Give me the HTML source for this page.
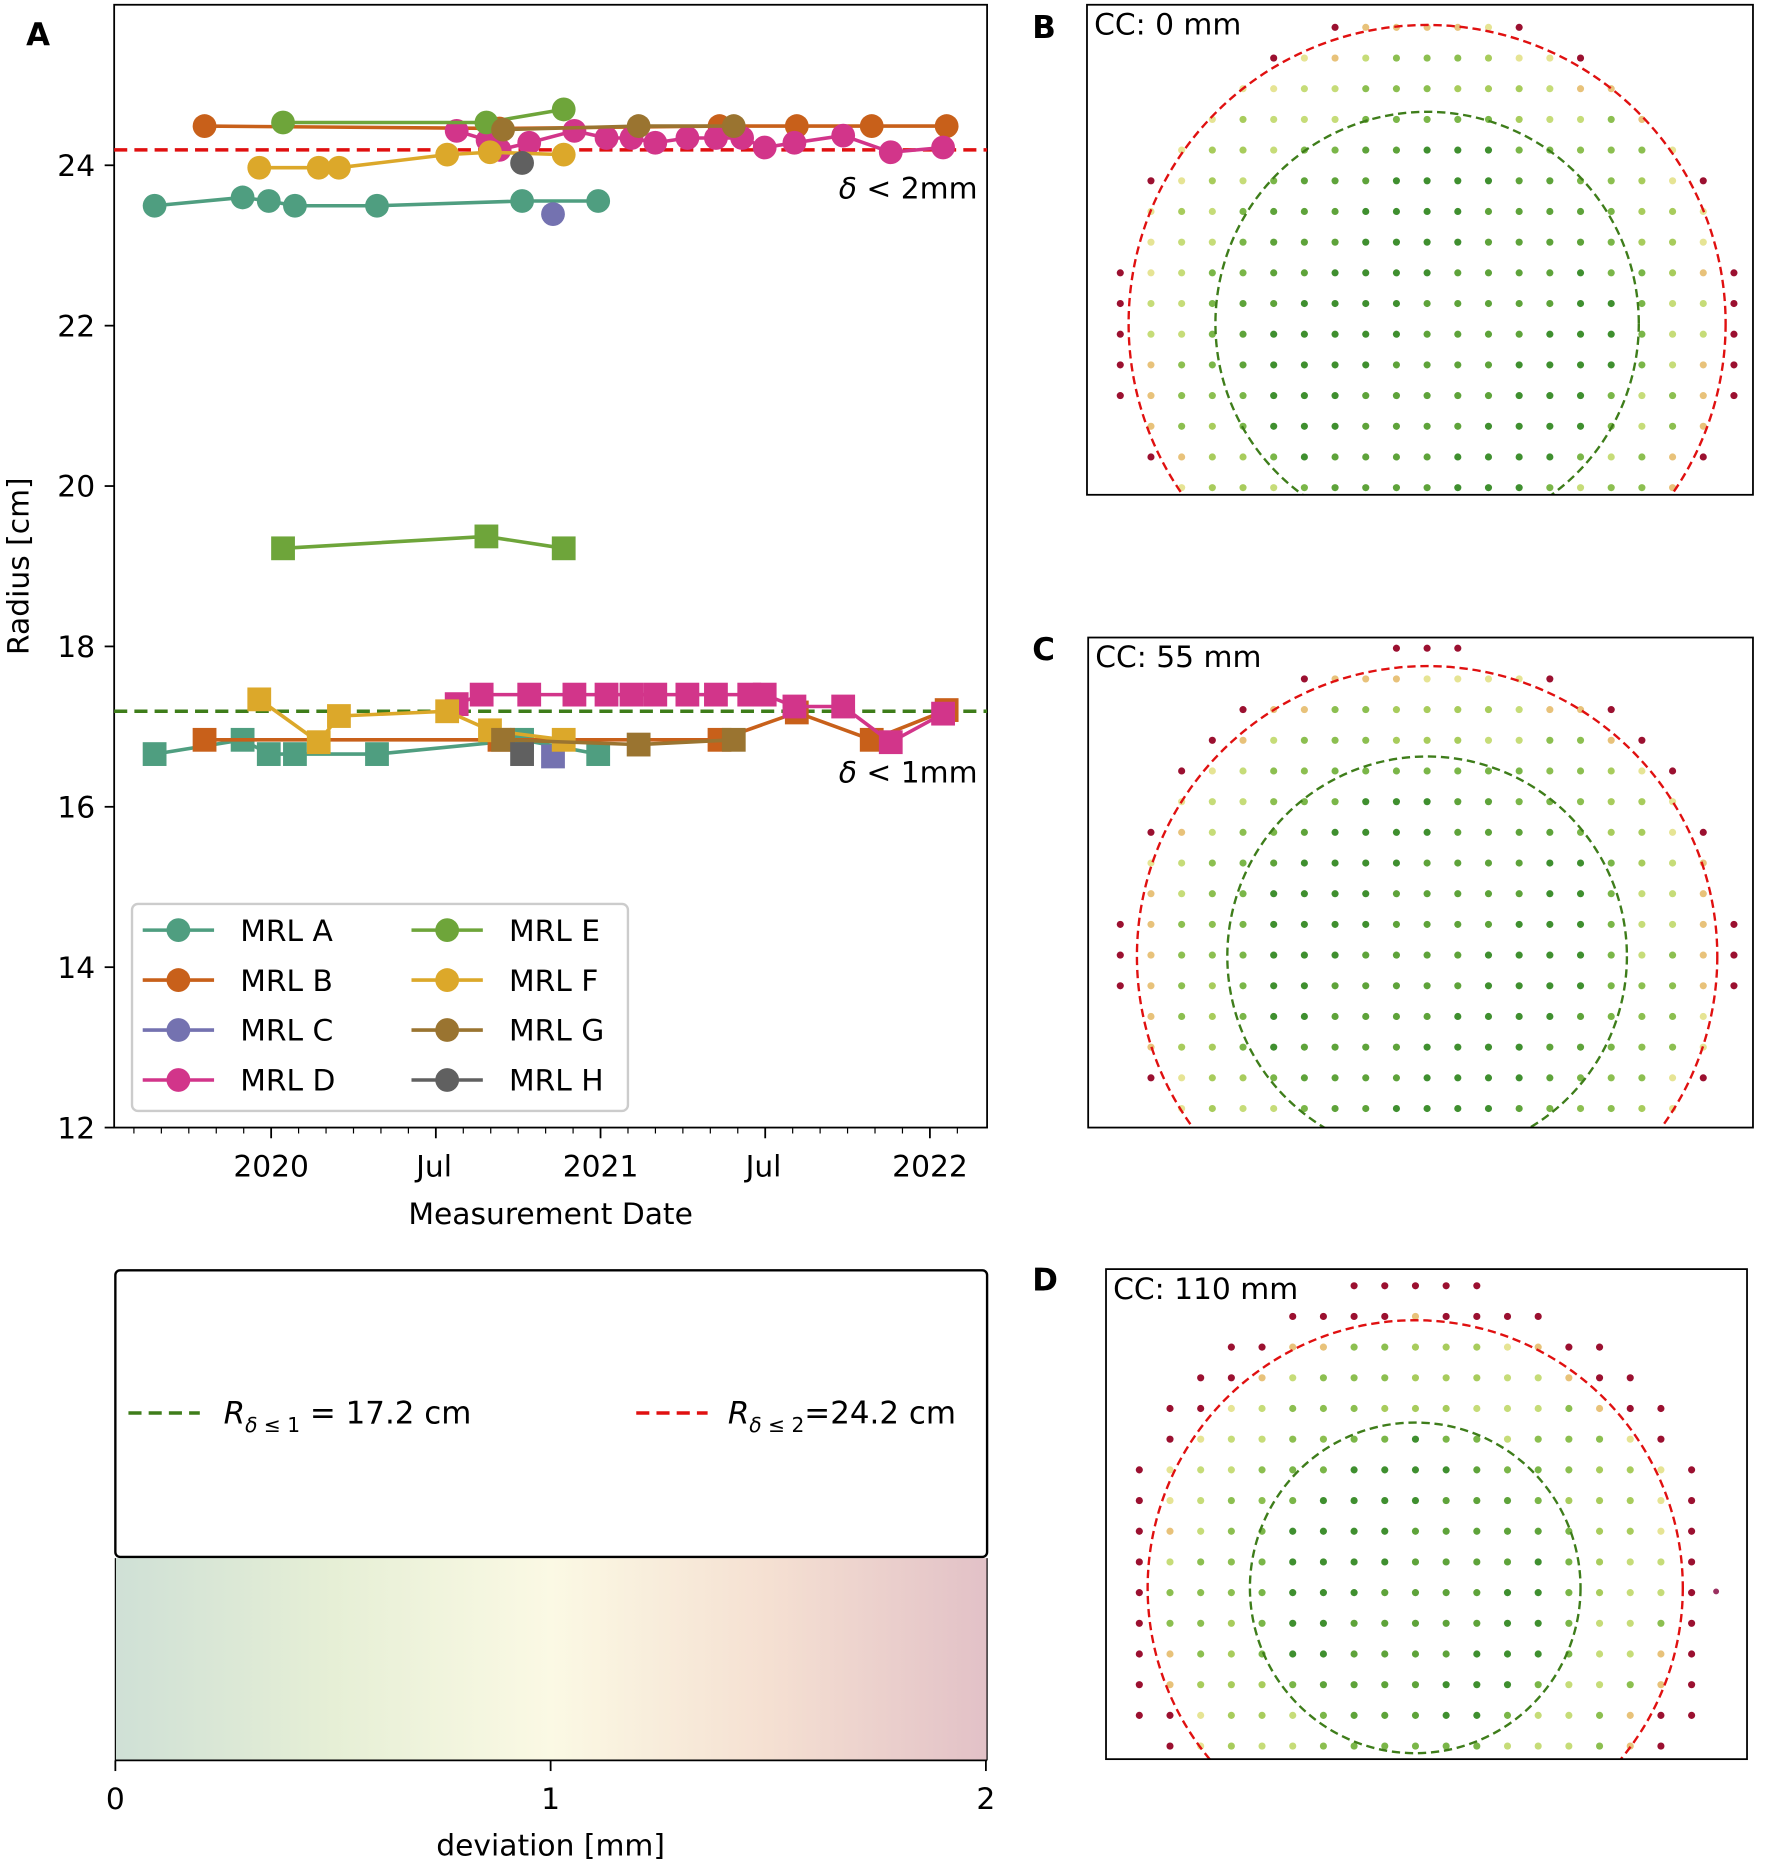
<!DOCTYPE html>
<html><head><meta charset="utf-8"><style>html,body{margin:0;padding:0;background:#fff}svg{display:block}text{font-family:"DejaVu Sans","Liberation Sans",sans-serif}</style></head><body>
<svg id="s" width="1772" height="1865" viewBox="0 0 1490 1568" preserveAspectRatio="none" xmlns="http://www.w3.org/2000/svg">
<rect width="1490" height="1568" fill="#fff"/>
<g id="A"></g>
<g id="dots"></g>
<defs><linearGradient id="cb" x1="0" x2="1" y1="0" y2="0">
<stop offset="0" stop-color="#cfe0d6"/><stop offset="0.25" stop-color="#e6efd6"/><stop offset="0.5" stop-color="#fbf9e4"/><stop offset="0.75" stop-color="#f5e0d2"/><stop offset="1" stop-color="#e2c1c7"/></linearGradient></defs>
<rect x="97" y="1310" width="733" height="170" fill="url(#cb)"/>
<rect x="97" y="1068" width="733" height="241" rx="4" fill="#fff" stroke="#000" stroke-width="2"/>
<line x1="97" y1="1480" x2="830" y2="1480" stroke="#000" stroke-width="1.5"/>
<line x1="97" y1="1310" x2="97" y2="1480" stroke="#000" stroke-width="1"/><line x1="830" y1="1310" x2="830" y2="1480" stroke="#000" stroke-width="1"/>
<g stroke="#000" stroke-width="1.5"><line x1="97" y1="1480" x2="97" y2="1489"/><line x1="463" y1="1480" x2="463" y2="1489"/><line x1="829" y1="1480" x2="829" y2="1489"/></g>
<g font-size="25" text-anchor="middle"><text x="97" y="1521">0</text><text x="463" y="1521">1</text><text x="829" y="1521">2</text><text x="463" y="1560">deviation [mm]</text></g>
<line x1="108" y1="1188" x2="168" y2="1188" stroke="#3e7d1a" stroke-width="3" stroke-dasharray="11,6"/>
<line x1="535" y1="1188" x2="595" y2="1188" stroke="#e01010" stroke-width="3" stroke-dasharray="11,6"/>
<text x="188" y="1197" font-size="26"><tspan font-style="italic">R</tspan><tspan font-size="17" dy="7"><tspan font-style="italic">δ</tspan> ≤ 1</tspan><tspan dy="-7"> = 17.2 cm</tspan></text>
<text x="612" y="1197" font-size="26"><tspan font-style="italic">R</tspan><tspan font-size="17" dy="7"><tspan font-style="italic">δ</tspan> ≤ 2</tspan><tspan dy="-7">=24.2 cm</tspan></text>
<g font-size="26" font-weight="bold" font-family="Liberation Sans"><text x="22" y="38">A</text><text x="868" y="32">B</text><text x="868" y="555">C</text><text x="868" y="1085">D</text></g>
</svg>
<script>
const NS="http://www.w3.org/2000/svg";
function el(p,t,a,txt){const e=document.createElementNS(NS,t);for(const k in a)e.setAttribute(k,a[k]);if(txt!==undefined)e.textContent=txt;p.appendChild(e);return e;}
const A=document.getElementById('A');
el(A,'rect',{x:96,y:4,width:734,height:944,fill:'none',stroke:'#000','stroke-width':1.5});
const Y=v=>948-(v-12)*67.42;
[12,14,16,18,20,22,24].forEach(v=>{el(A,'line',{x1:88,x2:96,y1:Y(v),y2:Y(v),stroke:'#000','stroke-width':1.5});el(A,'text',{x:80,y:Y(v)+9,'font-size':25,'text-anchor':'end'},v);});
for(let k=-5;k<=25;k++){const x=228+k*23.08;const maj=(k%6===0);el(A,'line',{x1:x,x2:x,y1:948,y2:maj?957:953,stroke:'#000','stroke-width':maj?1.5:1});}
[[228,'2020'],[365,'Jul'],[505,'2021'],[642,'Jul'],[782,'2022']].forEach(([x,t])=>el(A,'text',{x:x,y:989,'font-size':25,'text-anchor':'middle'},t));
el(A,'text',{x:463,y:1029,'font-size':25,'text-anchor':'middle'},'Measurement Date');
el(A,'text',{x:0,y:0,'font-size':25,'text-anchor':'middle',transform:'translate(24,476) rotate(-90)'},'Radius [cm]');
el(A,'line',{x1:96,x2:830,y1:126,y2:126,stroke:'#e01010','stroke-width':3,'stroke-dasharray':'11,6'});
el(A,'line',{x1:96,x2:830,y1:598,y2:598,stroke:'#3e7d1a','stroke-width':3,'stroke-dasharray':'11,6'});
const t1=el(A,'text',{x:822,y:167,'font-size':25,'text-anchor':'end'});el(t1,'tspan',{'font-style':'italic'},'δ');el(t1,'tspan',{},' < 2mm');
const t2=el(A,'text',{x:822,y:658,'font-size':25,'text-anchor':'end'});el(t2,'tspan',{'font-style':'italic'},'δ');el(t2,'tspan',{},' < 1mm');
const C={A:'#4f9e80',B:'#c8601a',C:'#7472b0',D:'#d2358a',E:'#6ea53a',F:'#dca82a',G:'#9a7430',H:'#606060'};
const circ={A:[[130,173],[204,166],[226,169],[248,173],[317,173],[439,169],[503,169]],
B:[[172,106],[420,108],[605,106],[670,106],[733,106],[796,106]],C:[[465,180]],
D:[[384,110],[410,118],[420,126],[445,120],[483,110],[510,116],[531,116],[551,120],[578,116],[602,116],[624,116],[643,124],[668,120],[709,114],[749,128],[793,124]],
E:[[238,103],[409,103],[474,92]],F:[[218,141],[268,141],[285,141],[376,130],[412,128],[474,130]],G:[[423,109],[537,106],[617,106]],H:[[439,137]]};
const sq={A:[[130,634],[204,622],[226,634],[248,634],[317,634],[439,622],[503,634]],
B:[[172,622],[420,622],[605,622],[670,599],[733,622],[796,597]],C:[[465,636]],
D:[[384,592],[405,584],[445,584],[483,584],[510,584],[531,584],[551,584],[578,584],[602,584],[630,584],[643,584],[668,594],[709,594],[749,624],[793,600]],
E:[[238,461],[409,451],[474,461]],F:[[218,588],[268,624],[285,602],[376,598],[412,614],[474,622]],G:[[423,622],[537,626],[617,622]],H:[[439,634]]};
function series(d,isSq){for(const k in d){const g=el(A,'g',{});const pts=d[k];
 if(pts.length>1)el(g,'polyline',{points:pts.map(p=>p.join(',')).join(' '),fill:'none',stroke:C[k],'stroke-width':3});
 pts.forEach(([x,y])=>{if(isSq)el(g,'rect',{x:x-10,y:y-10,width:20,height:20,fill:C[k]});else el(g,'circle',{cx:x,cy:y,r:10,fill:C[k]});});}}
series(sq,true);series(circ,false);
el(A,'rect',{x:111,y:760,width:417,height:174,rx:5,fill:'#fff','fill-opacity':0.8,stroke:'#ccc','stroke-width':2});
const L=[['A',150,782],['B',150,824],['C',150,866],['D',150,908],['E',376,782],['F',376,824],['G',376,866],['H',376,908]];
L.forEach(([k,x,y])=>{const g=el(A,'g',{});el(g,'line',{x1:x-30,x2:x+30,y1:y,y2:y,stroke:C[k],'stroke-width':3});el(g,'circle',{cx:x,cy:y,r:10,fill:C[k]});
 el(A,'text',{x:x+52,y:y+9,'font-size':25},'MRL '+k);});
const D=document.getElementById('dots');
function panel(bx,by,bw,bh,cx,cy,rr,rg,x0,y0,sp,rmax,xmax,label){
 const cp='c'+bx;const defs=el(D,'clipPath',{id:cp});el(defs,'rect',{x:bx,y:by,width:bw,height:bh});
 const g=el(D,'g',{'clip-path':'url(#'+cp+')'});
 for(let y=y0;y<by+bh+5;y+=sp)for(let x=x0;x<bx+bw;x+=sp){const r=Math.hypot(x-cx,y-cy);if(r>rmax||Math.abs(x-cx)>xmax)continue;
  let c;const f=((x*7+y*13)%5)/5;
  if(r<rg*0.9)c=f<0.5?'#3f8f2f':'#5ea33a';else if(r<rg*1.05)c='#7ab648';else if(r<rr*0.93)c=f<0.4?'#a8cc5c':(f<0.7?'#c6dc78':'#8cbf50');else if(r<rr*1.02)c=f<0.5?'#e6e494':'#e8c27a';else c='#9b1030';
  el(g,'circle',{cx:x,cy:y,r:3,fill:c});}
 el(g,'circle',{cx:cx,cy:cy,r:rr,fill:'none',stroke:'#e01010','stroke-width':2,'stroke-dasharray':'7,4'});
 el(g,'circle',{cx:cx,cy:cy,r:rg,fill:'none',stroke:'#3e7d1a','stroke-width':2,'stroke-dasharray':'7,4'});
 el(D,'rect',{x:bx,y:by,width:bw,height:bh,fill:'none',stroke:'#000','stroke-width':1.5});
 el(D,'text',{x:bx+6,y:by+25,'font-size':25},label);}
panel(914,4,560,412,1200,272,251,178,942,23,25.8,266,270,'CC: 0 mm');
panel(915,536,559,412,1200,804,244,168,942,545,25.8,262,270,'CC: 55 mm');
panel(930,1067,539,412,1190,1335,225,139,958,1081,25.8,262,240,'CC: 110 mm');
el(D,'circle',{cx:1443,cy:1338,r:2.5,fill:'#9b3060'});
</script>
</body></html>
